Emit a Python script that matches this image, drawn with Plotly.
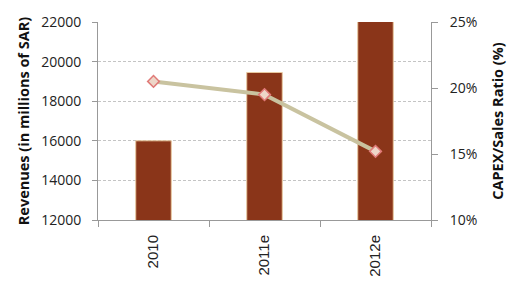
import plotly.graph_objects as go

categories = ["2010", "2011e", "2012e"]
revenues = [16000, 19450, 22050]
capex_ratio = [0.205, 0.195, 0.152]

fig = go.Figure()
fig.add_trace(go.Bar(
    x=categories, y=revenues, width=0.32,
    marker=dict(color="#8A3519", line=dict(color="#E8C9A0", width=1)),
    yaxis="y", showlegend=False,
))
fig.add_trace(go.Scatter(
    x=categories, y=capex_ratio, mode="lines+markers",
    line=dict(color="#C9C3A0", width=4),
    marker=dict(symbol="diamond", size=9, color="#EDD6C8",
                line=dict(color="#E07A78", width=1.5)),
    yaxis="y2", showlegend=False,
))

tick_font = dict(family="Open Sans, DejaVu Sans", size=14, color="#222")
title_font = dict(family="Open Sans, DejaVu Sans", size=14.5, color="#111")
fig.update_layout(
    width=516, height=295,
    margin=dict(l=98, r=83, t=22, b=75),
    plot_bgcolor="white", paper_bgcolor="white",
    xaxis=dict(
        type="category", tickson="boundaries", ticks="outside", ticklen=6,
        tickcolor="#999", showline=True, linecolor="#999", linewidth=1,
        tickangle=-90, ticklabelstandoff=8,
        tickfont=dict(family="Liberation Sans, Arial", size=15, color="#222"),
        showgrid=False, range=[-0.5, 2.5],
    ),
    yaxis=dict(
        range=[12000, 22000], dtick=2000, tickformat="d", ticks="outside", ticklen=5,
        tickcolor="#999", showline=True, linecolor="#999", linewidth=1,
        showgrid=True, gridcolor="#c4c4c4", griddash="3px,2px", gridwidth=1,
        tickfont=tick_font, zeroline=False, ticklabelstandoff=8,
        title=dict(text="<b>Revenues (in millions of SAR)</b>", font=title_font,
                   standoff=8),
    ),
    yaxis2=dict(
        range=[0.10, 0.25], dtick=0.05, tickformat=".0%", overlaying="y", side="right",
        ticks="outside", ticklen=6, tickcolor="#999", showline=True, linecolor="#999",
        linewidth=1, showgrid=False, zeroline=False, tickfont=tick_font,
        ticklabelstandoff=9,
        title=dict(text="<b>CAPEX/Sales Ratio (%)</b>", font=title_font,
                   standoff=16),
    ),
)

fig.write_html("out.html")
